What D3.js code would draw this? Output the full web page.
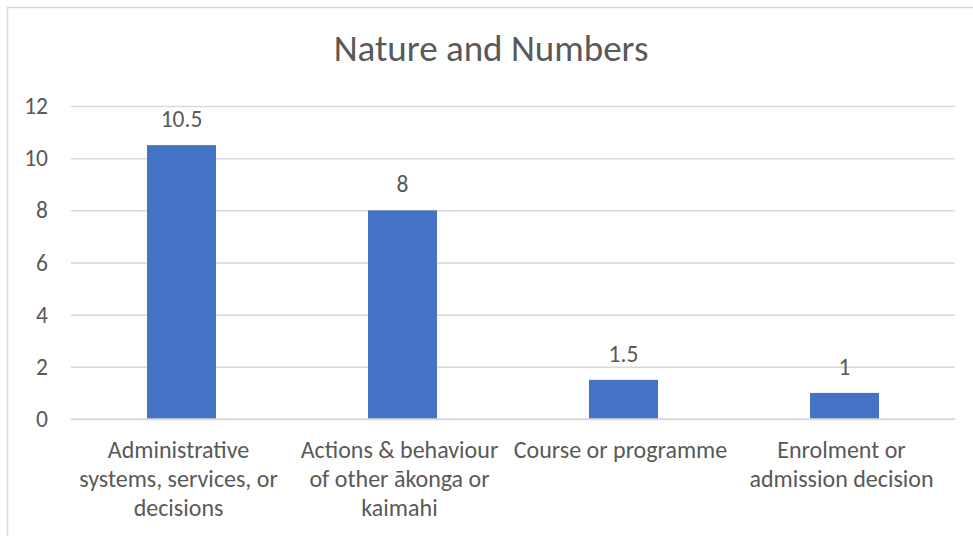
<!DOCTYPE html>
<html>
<head>
<meta charset="utf-8">
<script src="https://cdn.jsdelivr.net/npm/d3@7"></script>
<style>
  html, body { margin: 0; padding: 0; background: #fff; }
  svg { display: block; font-family: Carlito, "Open Sans", sans-serif; }
</style>
</head>
<body>
<svg id="chart" width="973" height="536"></svg>
<script>
const title = "Nature and Numbers";
const categories = [
  "Administrative\nsystems, services, or\ndecisions",
  "Actions & behaviour\nof other ākonga or\nkaimahi",
  "Course or programme",
  "Enrolment or\nadmission decision"
];
const values = [10.5, 8, 1.5, 1];
const yTicks = [0, 2, 4, 6, 8, 10, 12];

const svg = d3.select("#chart");
const width = 973, height = 536;
const margin = { top: 106, right: 18, bottom: 117, left: 71 };
const textColor = "#595959";
const gridColor = "#d9d9d9";
const barColor = "#4472c4";

// chart frame (cropped on right and bottom)
svg.append("rect")
  .attr("x", 7.5).attr("y", 7.5)
  .attr("width", width).attr("height", height)
  .attr("fill", "none").attr("stroke", gridColor).attr("stroke-width", 1.5);

const x = d3.scaleBand()
  .domain(categories)
  .range([margin.left, width - margin.right])
  .paddingInner(0.688)
  .paddingOuter(0.344);

const y = d3.scaleLinear()
  .domain([0, 12])
  .range([height - margin.bottom, margin.top]);

svg.append("text")
  .attr("x", 491).attr("y", 61)
  .attr("text-anchor", "middle")
  .attr("fill", textColor)
  .attr("font-size", 37)
  .text(title);

// gridlines + y labels
const yAxis = d3.axisLeft(y)
  .tickValues(yTicks)
  .tickSize(-(width - margin.left - margin.right))
  .tickPadding(23);

const yg = svg.append("g")
  .attr("transform", `translate(${margin.left},0)`)
  .call(yAxis)
  .attr("font-family", null)
  .attr("font-size", 23.5);
yg.select(".domain").remove();
yg.selectAll(".tick line").attr("stroke", gridColor).attr("stroke-width", 1.5);
yg.selectAll(".tick text").attr("fill", textColor);

// bars
svg.append("g")
  .selectAll("rect")
  .data(values)
  .join("rect")
  .attr("x", (d, i) => x(categories[i]))
  .attr("y", d => y(d))
  .attr("width", x.bandwidth())
  .attr("height", d => y(0) - y(d))
  .attr("fill", barColor);

// data labels
svg.append("g")
  .selectAll("text")
  .data(values)
  .join("text")
  .attr("x", (d, i) => x(categories[i]) + x.bandwidth() / 2)
  .attr("y", d => y(d) - 18)
  .attr("text-anchor", "middle")
  .attr("fill", textColor)
  .attr("font-size", 23.5)
  .text(d => d);

// x axis category labels
const xAxis = d3.axisBottom(x).tickSize(0).tickFormat("");
const xg = svg.append("g")
  .attr("transform", `translate(0,${y(0)})`)
  .call(xAxis)
  .attr("font-family", null);
xg.select(".domain").remove();
xg.selectAll(".tick").each(function(d) {
  const t = d3.select(this).append("text")
    .attr("text-anchor", "middle")
    .attr("fill", textColor)
    .attr("font-size", 24);
  d.split("\n").forEach((line, j) => {
    t.append("tspan").attr("x", -3).attr("y", 38.5 + j * 29.3).text(line);
  });
});

// baseline gridline on top
svg.append("line")
  .attr("x1", margin.left).attr("x2", width - margin.right)
  .attr("y1", y(0)).attr("y2", y(0))
  .attr("stroke", gridColor).attr("stroke-width", 1.5);
</script>
</body>
</html>
